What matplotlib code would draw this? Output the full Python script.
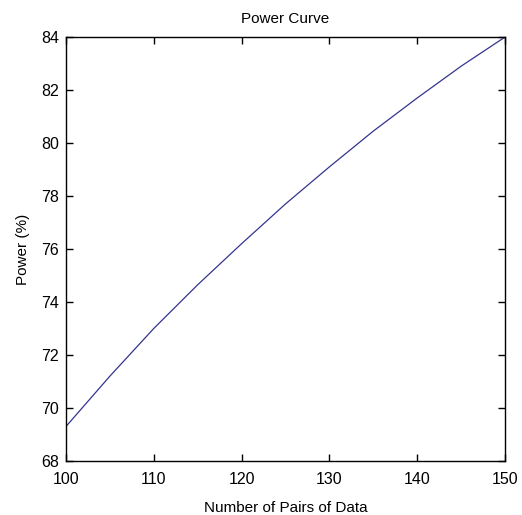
import matplotlib.pyplot as plt
import numpy as np

# sample sizes and the power reached for each
pairs = [100, 105, 110, 115, 120, 125, 130, 135, 140, 145, 150]
power = [69.3, 71.2, 73.0, 74.65, 76.2, 77.7, 79.1, 80.45, 81.7, 82.9, 84.0]

plt.rcParams['font.family'] = ['Liberation Sans', 'DejaVu Sans']

fig = plt.figure(figsize=(5.22, 5.15), dpi=100)
ax = fig.add_axes([0.1264, 0.105, 0.8410, 0.823])

ax.plot(pairs, power, color='#34348f', lw=0.9)

ax.set_xlim(100, 150)
ax.set_ylim(68, 84)
ax.set_xticks(np.arange(100, 151, 10))
ax.set_yticks(np.arange(68, 85, 2))
ax.tick_params(direction='in', length=5, width=1, top=True, right=True,
               labelsize=11.5)
ax.tick_params(axis='x', pad=8)
ax.tick_params(axis='y', pad=5)
for s in ax.spines.values():
    s.set_linewidth(1)

ax.set_title("Power Curve", fontsize=11, pad=10)
ax.set_xlabel("Number of Pairs of Data", fontsize=11, labelpad=10)
ax.set_ylabel("Power (%)", fontsize=11, labelpad=8)

plt.savefig("out.png", dpi=100)
